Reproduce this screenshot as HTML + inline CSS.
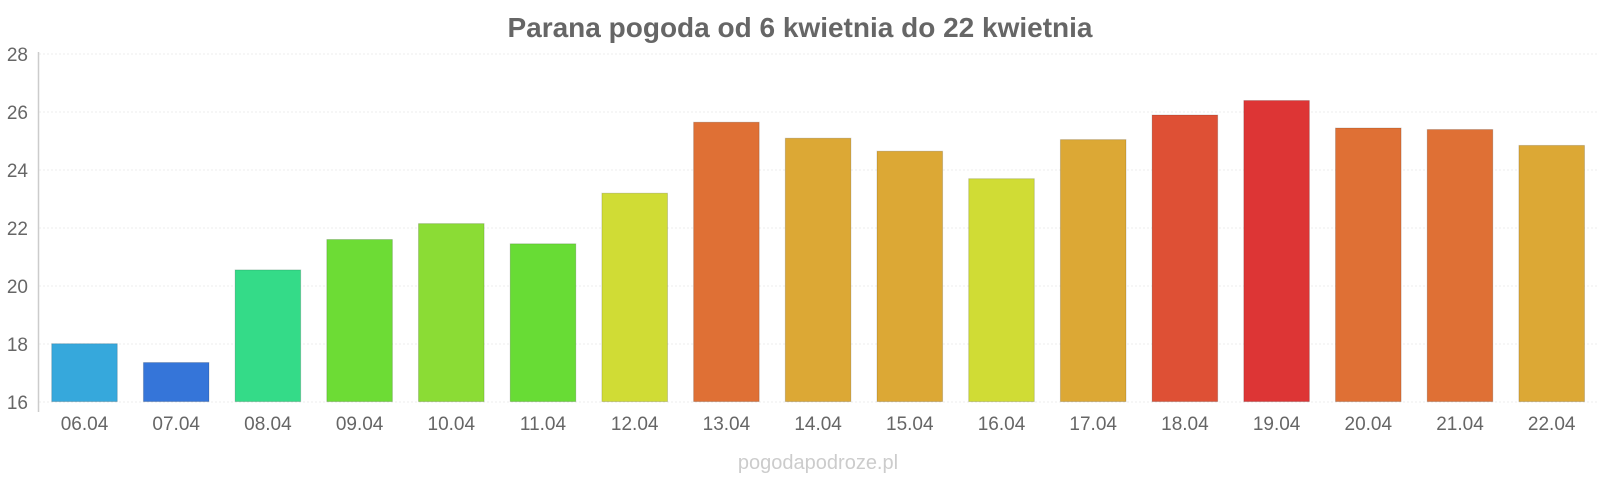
<!DOCTYPE html>
<html><head><meta charset="utf-8"><style>body{margin:0;background:#fff}svg{display:block}</style></head><body>
<svg width="1600" height="480" xmlns="http://www.w3.org/2000/svg" font-family="Liberation Sans, sans-serif">
<text x="800" y="37" text-anchor="middle" font-size="28" font-weight="bold" fill="#666">Parana pogoda od 6 kwietnia do 22 kwietnia</text>
<g stroke="#eee" stroke-width="1" stroke-dasharray="2,2">
<line x1="39" x2="1597" y1="54" y2="54"/><line x1="39" x2="1597" y1="112" y2="112"/><line x1="39" x2="1597" y1="170" y2="170"/><line x1="39" x2="1597" y1="228" y2="228"/><line x1="39" x2="1597" y1="286" y2="286"/><line x1="39" x2="1597" y1="344" y2="344"/><line x1="39" x2="1597" y1="402" y2="402"/>
</g>
<line x1="38.5" x2="38.5" y1="52" y2="412" stroke="#ccc" stroke-width="1.5"/>
<g font-size="19" fill="#666" text-anchor="end">
<text x="28" y="61">28</text><text x="28" y="119">26</text><text x="28" y="177">24</text><text x="28" y="235">22</text><text x="28" y="293">20</text><text x="28" y="351">18</text><text x="28" y="409">16</text>
</g>
<g stroke="#000" stroke-opacity="0.15" stroke-width="1">
<rect x="51.7" y="343.7" width="65.6" height="57.9" fill="#36a8dc"/>
<rect x="143.4" y="362.5" width="65.6" height="39.1" fill="#3575d9"/>
<rect x="235.1" y="269.9" width="65.6" height="131.7" fill="#34db88"/>
<rect x="326.8" y="239.5" width="65.6" height="162.1" fill="#6ddc35"/>
<rect x="418.5" y="223.6" width="65.6" height="178" fill="#8bdc35"/>
<rect x="510.2" y="243.8" width="65.6" height="157.8" fill="#68dc35"/>
<rect x="601.9" y="193.2" width="65.6" height="208.4" fill="#d0dc35"/>
<rect x="693.6" y="122.2" width="65.6" height="279.4" fill="#df7035"/>
<rect x="785.3" y="138.2" width="65.6" height="263.4" fill="#dca835"/>
<rect x="877.0" y="151.2" width="65.6" height="250.4" fill="#dca835"/>
<rect x="968.7" y="178.7" width="65.6" height="222.9" fill="#d0dc35"/>
<rect x="1060.4" y="139.6" width="65.6" height="262" fill="#dca835"/>
<rect x="1152.1" y="115.0" width="65.6" height="286.6" fill="#de5035"/>
<rect x="1243.8" y="100.5" width="65.6" height="301.1" fill="#dd3535"/>
<rect x="1335.5" y="128.0" width="65.6" height="273.6" fill="#df7035"/>
<rect x="1427.2" y="129.5" width="65.6" height="272.1" fill="#df7035"/>
<rect x="1518.9" y="145.4" width="65.6" height="256.2" fill="#dca835"/>
</g>
<g font-size="19" fill="#666" text-anchor="middle">
<text x="84.5" y="430">06.04</text><text x="176.2" y="430">07.04</text><text x="267.9" y="430">08.04</text><text x="359.6" y="430">09.04</text><text x="451.3" y="430">10.04</text><text x="543" y="430">11.04</text><text x="634.7" y="430">12.04</text><text x="726.4" y="430">13.04</text><text x="818.1" y="430">14.04</text><text x="909.8" y="430">15.04</text><text x="1001.5" y="430">16.04</text><text x="1093.2" y="430">17.04</text><text x="1184.9" y="430">18.04</text><text x="1276.6" y="430">19.04</text><text x="1368.3" y="430">20.04</text><text x="1460" y="430">21.04</text><text x="1551.7" y="430">22.04</text>
</g>
<text x="818" y="469" text-anchor="middle" font-size="20" fill="#ccc">pogodapodroze.pl</text>
</svg>
</body></html>
